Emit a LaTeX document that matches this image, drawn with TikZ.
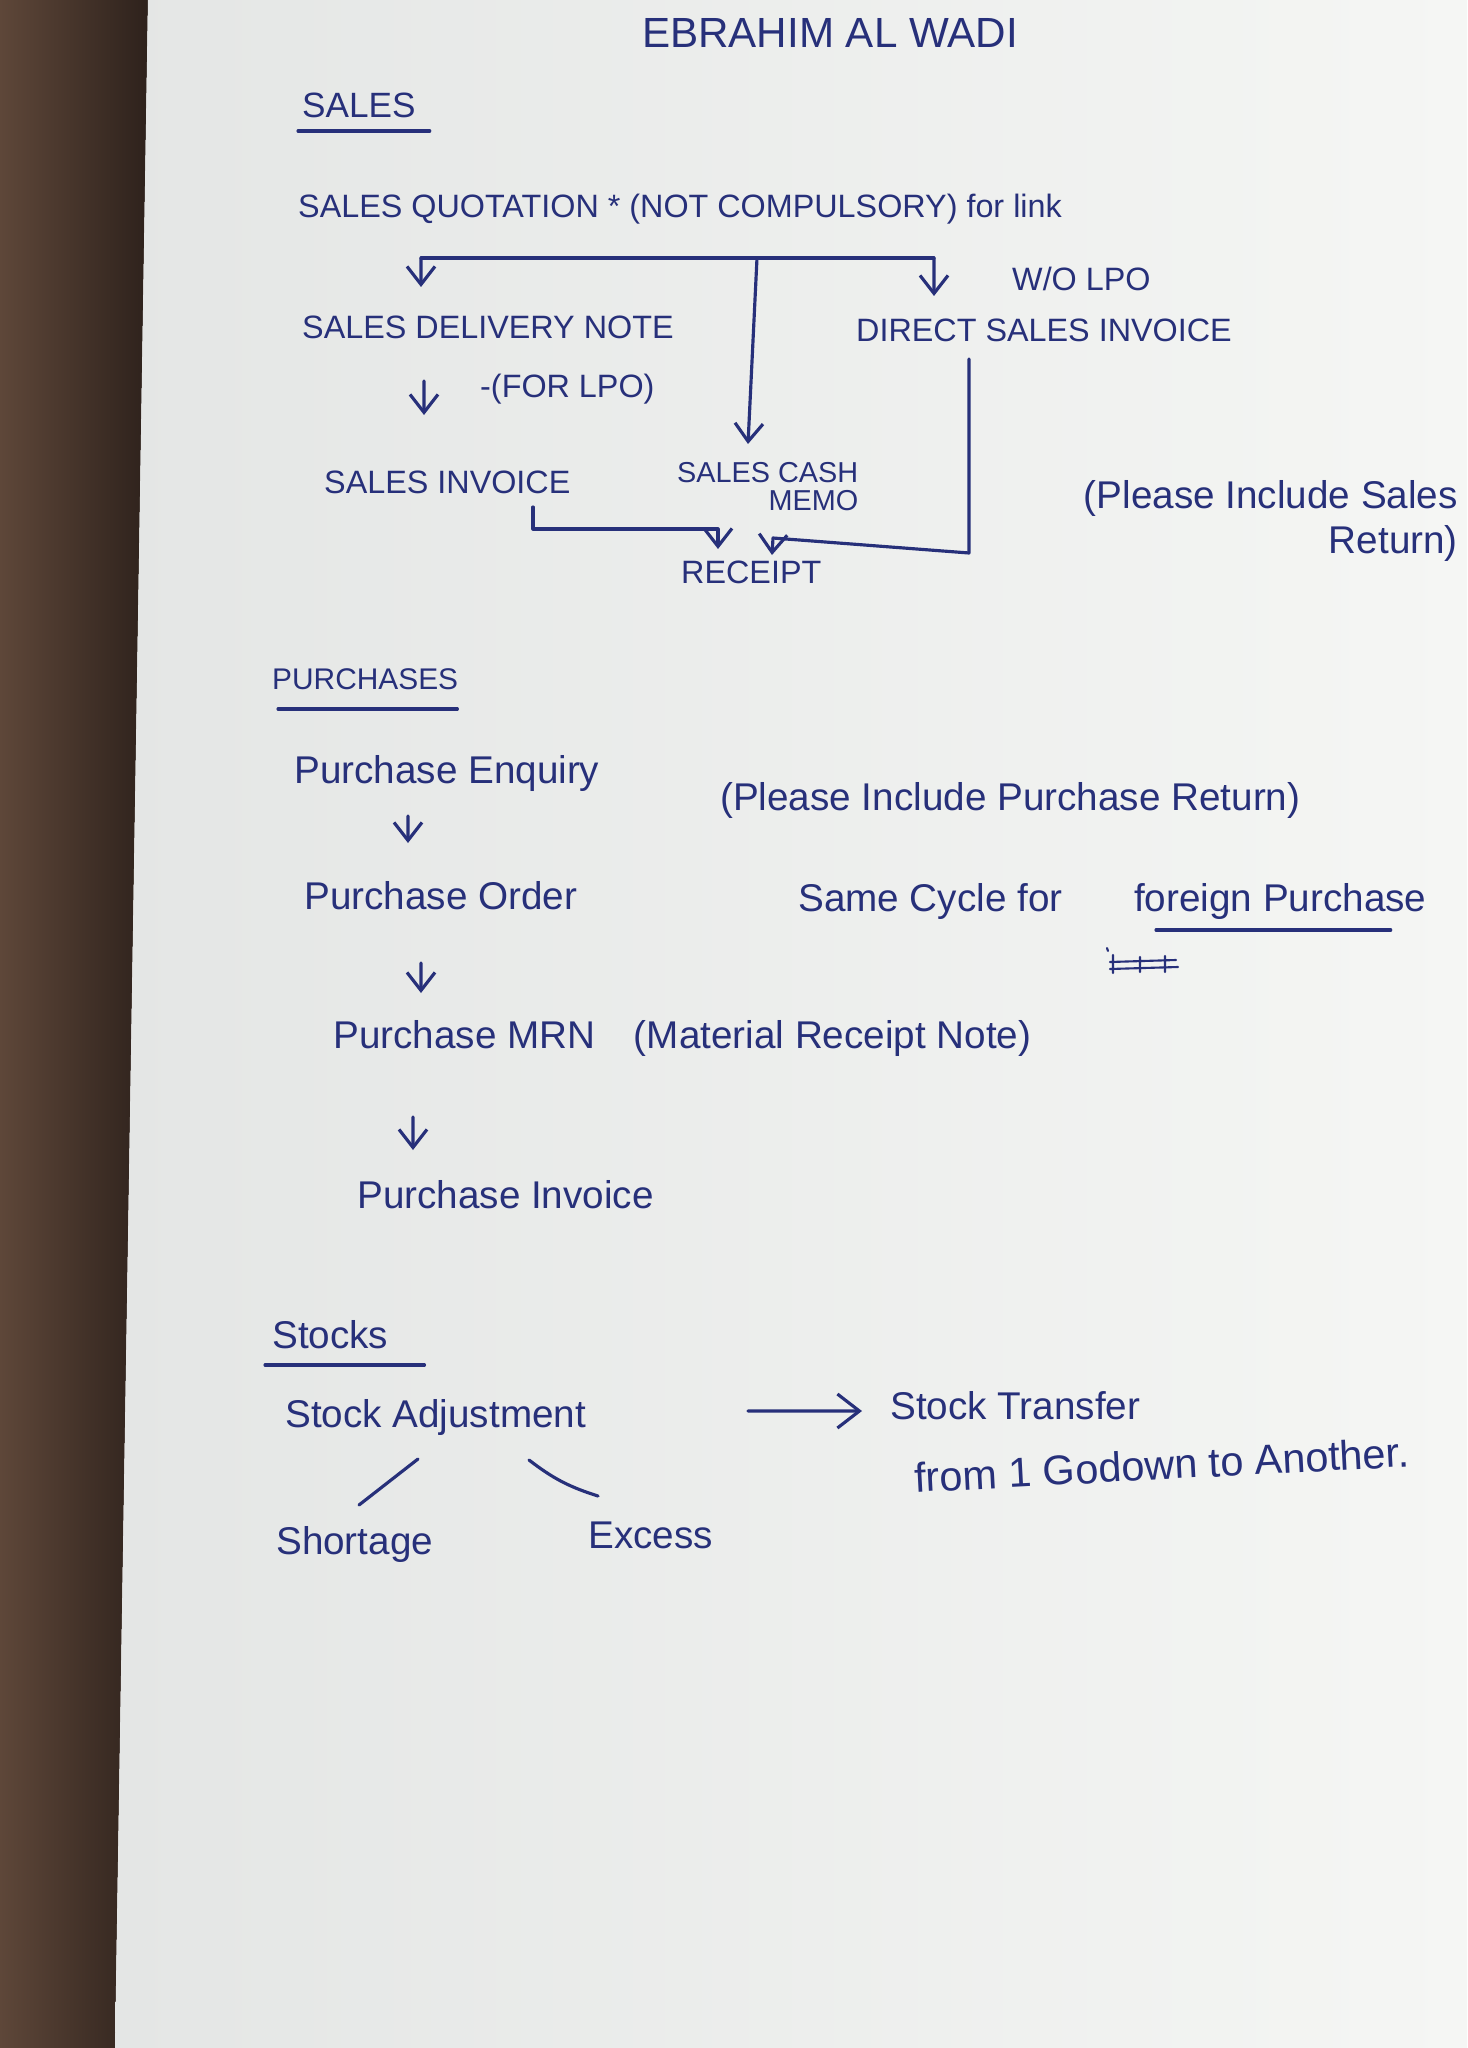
\documentclass[tikz,border=0pt]{standalone}
\usepackage{fontspec}
\setmainfont{Liberation Sans}
\usepackage{tikz}
\usetikzlibrary{arrows.meta}
\definecolor{InkBlue}{HTML}{27307A}
\definecolor{PaperGrey}{HTML}{E4E6E5}
\definecolor{PaperWhite}{HTML}{F5F6F4}
\definecolor{WoodDark}{HTML}{2E221C}
\definecolor{WoodBrown}{HTML}{5E4739}

\begin{document}
\begin{tikzpicture}[x=0.1mm,y=-0.1mm,>={Straight Barb[length=1.8mm,width=2.8mm]},
  hw/.style={anchor=west,inner sep=1pt,text=InkBlue,font=\fontsize{11}{13}\selectfont},
  caps/.style={hw,font=\fontsize{9.2}{11}\selectfont},
  ln/.style={draw=InkBlue,line width=0.9pt,line cap=round,line join=round}]
\useasboundingbox (0,0) rectangle (1467,2048);
\shade[left color=WoodBrown,right color=WoodDark] (0,0) -- (148,0) -- (115,2048) -- (0,2048) -- cycle;
\shade[left color=PaperGrey,right color=PaperWhite] (148,0) -- (1467,0) -- (1467,2048) -- (115,2048) -- cycle;

\node[caps,anchor=center,font=\fontsize{12}{14}\selectfont] (title) at (830,33) {EBRAHIM AL WADI};

\node[caps,font=\fontsize{10}{12}\selectfont] (salesH) at (298,105) {SALES};
\node[caps] (sq) at (294,209) {SALES QUOTATION * (NOT COMPULSORY) for link};
\node[caps] (sdn) at (298,327) {SALES DELIVERY NOTE};
\node[caps] (dsi) at (852,330) {DIRECT SALES INVOICE};
\node[caps] (wolpo) at (1008,279) {W/O LPO};
\node[caps] (forlpo) at (476,389) {-(FOR LPO)};
\node[caps] (si) at (320,482) {SALES INVOICE};
\node[caps,align=right,font=\fontsize{8.2}{8}\selectfont] (scm) at (673,487) {SALES CASH\\MEMO};
\node[caps] (rcpt) at (677,572) {RECEIPT};
\node[hw,anchor=north east,align=right] (sret) at (1462,476) {(Please Include Sales\\Return)};

\coordinate (qL) at (421,258);
\coordinate (qR) at (934,258);
\coordinate (fork) at (757,258);
\draw[ln] (qL) -- (qR);
\draw[ln,->] (qL) -- ([xshift=12.3mm,yshift=4mm]sdn.west);
\draw[ln,->] (qR) -- ([xshift=8.2mm,yshift=3.4mm]dsi.west);
\draw[ln,->] (fork) -- ([xshift=7.5mm,yshift=4.3mm]scm.west);
\draw[ln,->] ([xshift=12.6mm,yshift=-5.4mm]sdn.west) -- ([xshift=10.4mm,yshift=6.7mm]si.west);
\draw[ln,->] ([xshift=21.3mm,yshift=-2.5mm]si.west) -- ++(0,22) -| ([xshift=4.1mm,yshift=2.3mm]rcpt.west);
\draw[ln,->] ([xshift=11.7mm,yshift=-2.9mm]dsi.west) -- ++(0,194) -- ++(-196,-15) -- ([xshift=9.5mm,yshift=1.7mm]rcpt.west);

\node[caps,font=\fontsize{8.5}{10}\selectfont] (purH) at (268,679) {PURCHASES};
\node[hw] (pe) at (290,773) {Purchase Enquiry};
\node[hw] (pret) at (716,800) {(Please Include Purchase Return)};
\node[hw] (po) at (300,896) {Purchase Order};
\node[hw] (same) at (794,901) {Same Cycle for};
\node[hw] (fp) at (1130,901) {foreign Purchase};
\node[hw] (pmrn) at (329,1038) {Purchase MRN\quad(Material Receipt Note)};
\node[hw] (pi) at (353,1195) {Purchase Invoice};

\draw[ln] ([yshift=-2.6mm]salesH.west) -- ([xshift=1mm,yshift=-2.6mm]salesH.east);
\draw[ln] ([xshift=1mm,yshift=-3mm]purH.west) -- ([xshift=-0.5mm,yshift=-3mm]purH.east);
\draw[ln] ([xshift=2.6mm,yshift=-2.9mm]fp.west) -- ([xshift=-4mm,yshift=-2.9mm]fp.east);
\draw[ln,line width=0.6pt] (1107,948) -- (1108,951) (1110,962) -- (1176,960) (1110,969) -- (1178,967) (1113,955) -- (1113,973) (1140,957) -- (1140,972) (1165,956) -- (1165,972);
\draw[ln,->] ([xshift=11.8mm,yshift=-4.3mm]pe.west) -- ([xshift=10.8mm,yshift=5.3mm]po.west);
\draw[ln,->] ([xshift=12.1mm,yshift=-6.7mm]po.west) -- ([xshift=9.2mm,yshift=4.5mm]pmrn.west);
\draw[ln,->] ([xshift=8.4mm,yshift=-7.9mm]pmrn.west) -- ([xshift=6mm,yshift=4.5mm]pi.west);

\node[hw] (stkH) at (268,1335) {Stocks};
\node[hw] (sa) at (281,1417) {Stock Adjustment};
\node[hw] (st) at (886,1406) {Stock Transfer};
\node[hw,rotate=3,font=\fontsize{11.8}{13}\selectfont] (stfrom) at (910,1478) {from 1 Godown to Another.};
\node[hw] (short) at (272,1544) {Shortage};
\node[hw] (excess) at (584,1535) {Excess};

\draw[ln] ([xshift=-0.3mm,yshift=-3mm]stkH.west) -- ([xshift=3.2mm,yshift=-3mm]stkH.east);
\draw[ln,->,>={Straight Barb[length=2.2mm,width=3.4mm]}] ([xshift=46.7mm,yshift=0.6mm]sa.west) -- ([xshift=-2.4mm,yshift=-0.5mm]st.west);
\draw[ln] ([xshift=13.7mm,yshift=-4.2mm]sa.west) -- ([xshift=8.7mm,yshift=3.9mm]short.west);
\draw[ln] ([xshift=24.8mm,yshift=-4.3mm]sa.west) to[bend right=10] ([xshift=1.4mm,yshift=3.9mm]excess.west);
\end{tikzpicture}
\end{document}
